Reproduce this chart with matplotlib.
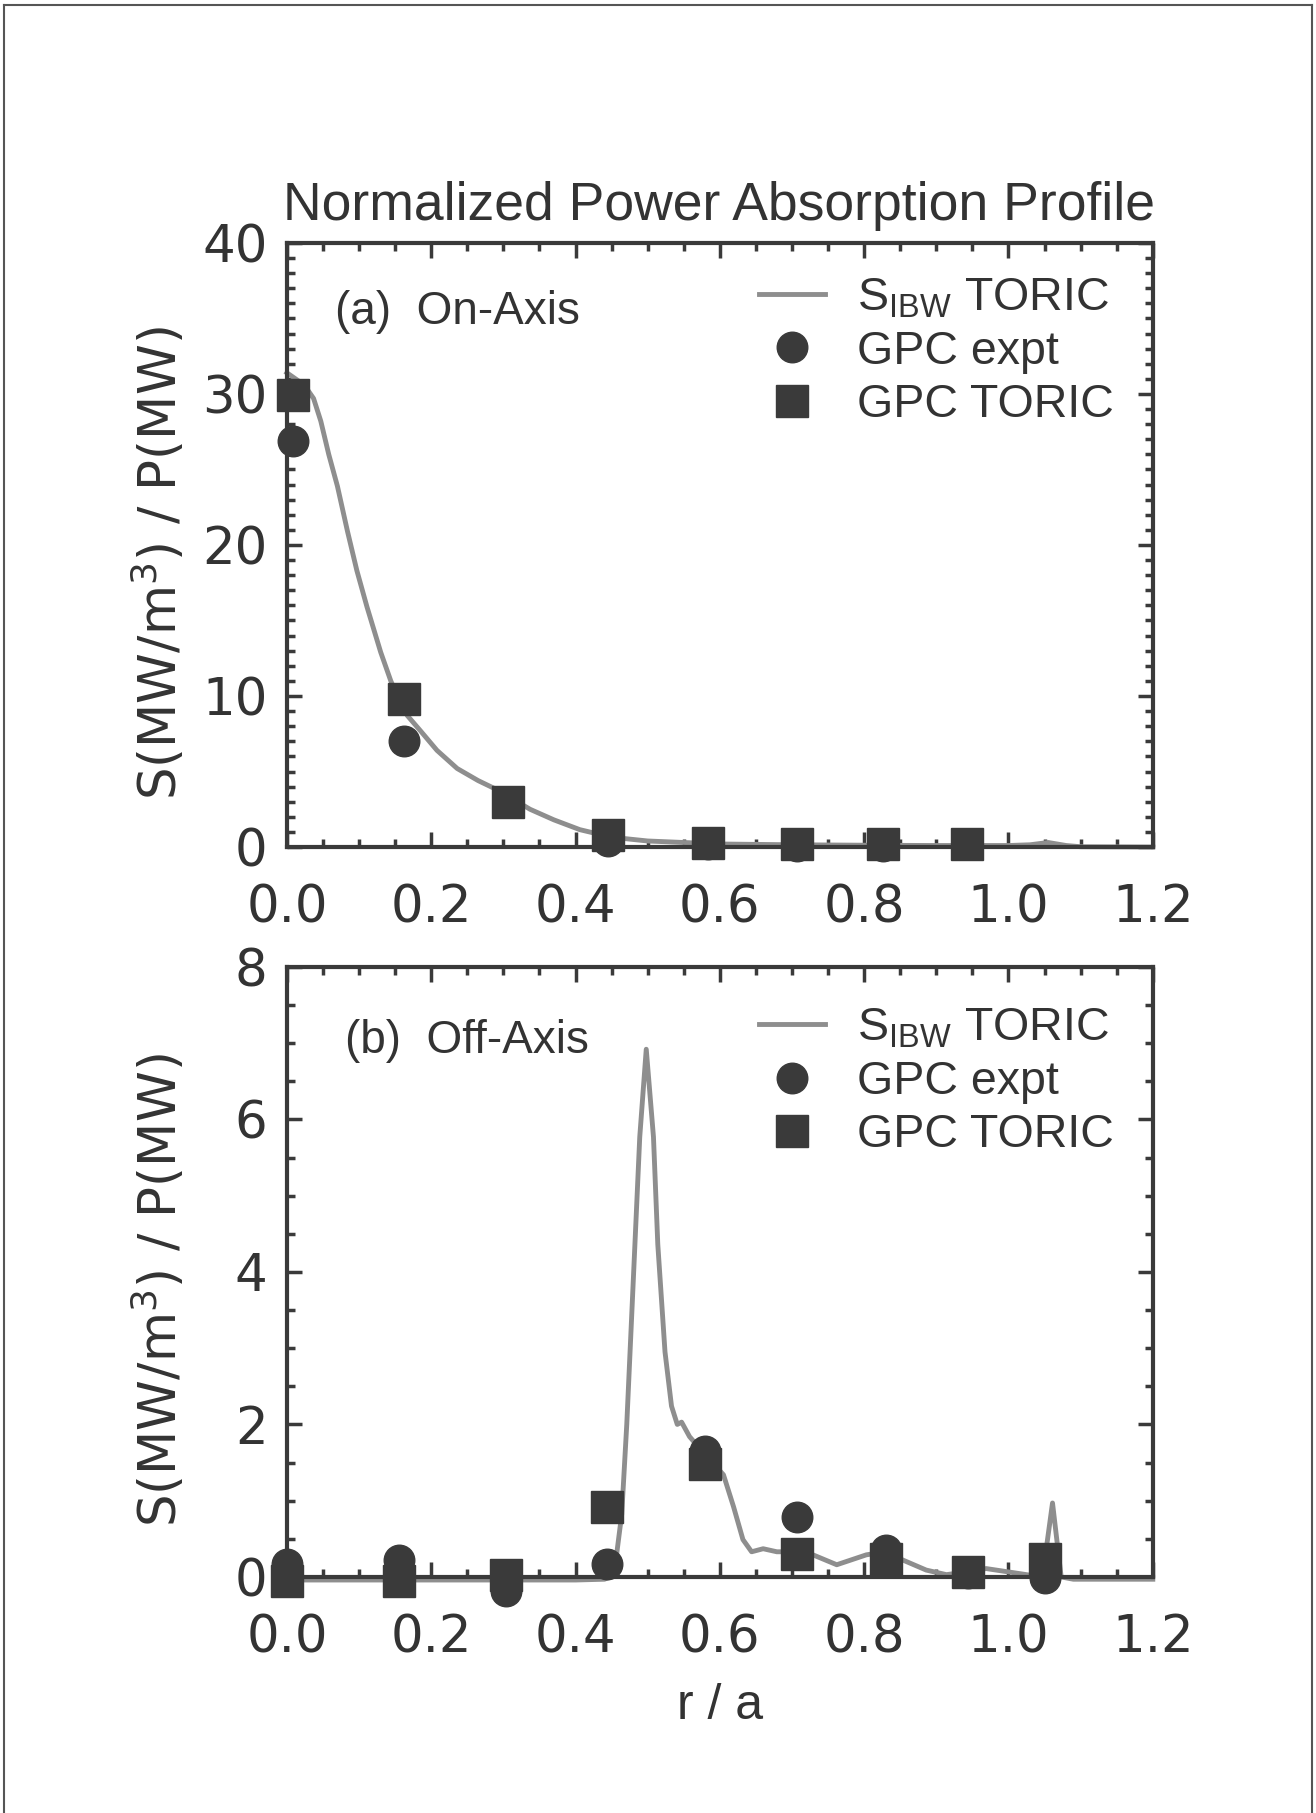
import numpy as np
import matplotlib
matplotlib.use('Agg')
import matplotlib.pyplot as plt
from matplotlib.ticker import MultipleLocator, FormatStrFormatter
from matplotlib.lines import Line2D

# (a) on-axis: TORIC profile
a_line_x = [0.0, 0.024, 0.037, 0.047, 0.058, 0.070, 0.084, 0.097, 0.111, 0.130, 0.144,
            0.155, 0.167, 0.185, 0.208, 0.236, 0.265, 0.291, 0.337, 0.37, 0.406, 0.45,
            0.5, 0.55, 0.6, 0.7, 0.8, 0.9, 1.0, 1.03, 1.055, 1.08, 1.1, 1.2]
a_line_y = [31.4, 30.6, 29.7, 28.2, 26.0, 23.9, 20.9, 18.3, 15.9, 12.9, 11.0,
            9.8, 8.7, 7.7, 6.4, 5.2, 4.4, 3.8, 2.5, 1.8, 1.15, 0.65,
            0.4, 0.3, 0.2, 0.15, 0.12, 0.1, 0.1, 0.15, 0.3, 0.1, 0.02, 0.0]
# (a) GPC points
a_expt_x = [0.008, 0.162, 0.307, 0.445, 0.583, 0.707, 0.826]
a_expt_y = [26.9, 7.0, 3.0, 0.4, 0.2, 0.1, 0.1]
a_toric_x = [0.009, 0.162, 0.307, 0.445, 0.583, 0.707, 0.826, 0.942]
a_toric_y = [29.9, 9.8, 3.0, 0.8, 0.3, 0.2, 0.2, 0.2]

# (b) off-axis: TORIC profile
b_line_x = [0.0, 0.2, 0.4, 0.44, 0.448, 0.457, 0.464, 0.471, 0.480, 0.489, 0.498,
            0.508, 0.514, 0.524, 0.533, 0.541, 0.547, 0.558, 0.58, 0.605, 0.619,
            0.632, 0.644, 0.660, 0.679, 0.707, 0.729, 0.762, 0.803, 0.83, 0.854,
            0.886, 0.914, 0.944, 0.969, 0.997, 1.025, 1.047, 1.061, 1.073, 1.09, 1.2]
b_line_y = [-0.04, -0.04, -0.04, -0.03, 0.0, 0.30, 0.82, 2.0, 3.88, 5.77, 6.92,
            5.77, 4.36, 2.95, 2.24, 2.0, 2.03, 1.84, 1.6, 1.34, 0.92,
            0.49, 0.33, 0.37, 0.33, 0.33, 0.29, 0.16, 0.29, 0.33, 0.22,
            0.09, 0.03, 0.07, 0.11, 0.07, 0.03, 0.0, 0.97, 0.0, -0.03, -0.03]
# (b) GPC points
b_pts_x = [0.0, 0.155, 0.303, 0.443, 0.58, 0.707, 0.83, 0.944, 1.051]
b_expt_y = [0.17, 0.22, -0.18, 0.17, 1.65, 0.78, 0.35, 0.05, -0.02]
b_toric_y = [-0.05, -0.05, 0.03, 0.92, 1.48, 0.30, 0.24, 0.07, 0.24]

dark = '#3a3a3a'
txt = '#333333'
linec = '#8e8e8e'
plt.rcParams['font.family'] = ['Liberation Sans', 'DejaVu Sans']
plt.rcParams['mathtext.default'] = 'regular'

fig = plt.figure(figsize=(13.16, 18.13), dpi=100)
ax1 = fig.add_axes([0.218, 0.5328, 0.658, 0.3332])
ax2 = fig.add_axes([0.218, 0.1302, 0.658, 0.3365])

def style(ax, ymax, ymaj, ymin):
    ax.set_xlim(0, 1.2)
    ax.set_ylim(0, ymax)
    ax.xaxis.set_major_locator(MultipleLocator(0.2))
    ax.xaxis.set_minor_locator(MultipleLocator(0.05))
    ax.yaxis.set_major_locator(MultipleLocator(ymaj))
    ax.yaxis.set_minor_locator(MultipleLocator(ymin))
    ax.xaxis.set_major_formatter(FormatStrFormatter('%.1f'))
    ax.tick_params(which='both', direction='in', top=True, right=True, color=dark, width=2.5)
    ax.tick_params(which='major', length=11)
    ax.tick_params(which='minor', length=5.5)
    ax.tick_params(axis='x', which='major', pad=26)
    ax.tick_params(axis='y', which='major', pad=14)
    for s in ax.spines.values():
        s.set_linewidth(3)
        s.set_color(dark)
    for lab in ax.get_xticklabels() + ax.get_yticklabels():
        lab.set_fontfamily('DejaVu Sans')
        lab.set_fontsize(37)
        lab.set_color(txt)
    ax.set_ylabel('S(MW/m$^3$) / P(MW)', fontsize=37, color=txt, family='DejaVu Sans')
    ax.yaxis.set_label_coords(-0.114, 0.47)

style(ax1, 40, 10, 1)
style(ax2, 8, 2, 0.5)

ax1.plot(a_line_x, a_line_y, color=linec, lw=3.5, zorder=2, clip_on=False)
ax1.plot(a_expt_x, a_expt_y, 'o', ms=22, color=dark, zorder=3, clip_on=False)
ax1.plot(a_toric_x, a_toric_y, 's', ms=23, color=dark, zorder=3, clip_on=False)

ax2.plot(b_line_x, b_line_y, color=linec, lw=3.5, zorder=2, clip_on=False)
ax2.plot(b_pts_x, b_expt_y, 'o', ms=22, color=dark, zorder=3, clip_on=False)
ax2.plot(b_pts_x, b_toric_y, 's', ms=23, color=dark, zorder=3, clip_on=False)

handles = [Line2D([], [], color=linec, lw=3.5),
           Line2D([], [], marker='o', ls='none', ms=22, color=dark),
           Line2D([], [], marker='s', ls='none', ms=23, color=dark)]
labels = ['S$_{IBW}$ TORIC', 'GPC expt', 'GPC TORIC']
for ax, top in ((ax1, 0.983), (ax2, 0.973)):
    leg = ax.legend(handles, labels, loc='upper right', bbox_to_anchor=(0.982, top),
                    frameon=False, fontsize=33.5, handlelength=1.4, handletextpad=0.7,
                    labelspacing=0.2, borderpad=0, numpoints=1)
    for t in leg.get_texts():
        t.set_color(txt)

ax1.text(0.056, 0.886, '(a)  On-Axis', transform=ax1.transAxes, fontsize=33,
         va='center', color=txt)
ax2.text(0.067, 0.879, '(b)  Off-Axis', transform=ax2.transAxes, fontsize=33,
         va='center', color=txt)

fig.text(0.546, 0.8787, 'Normalized Power Absorption Profile', ha='center',
         va='baseline', fontsize=38.5, color=txt)

ax2.set_xlabel('r / a', fontsize=36, color=txt, va='top')
ax2.xaxis.set_label_coords(0.5, -0.174)

# page border from the scan
for xs, ys in [([0.003, 0.003], [0.0, 0.997]), ([0.003, 0.997], [0.997, 0.997]),
               ([0.997, 0.997], [0.0, 0.997])]:
    fig.add_artist(Line2D(xs, ys, color='#555555', lw=1.5))

fig.savefig('out.png', dpi=100, facecolor='white')
